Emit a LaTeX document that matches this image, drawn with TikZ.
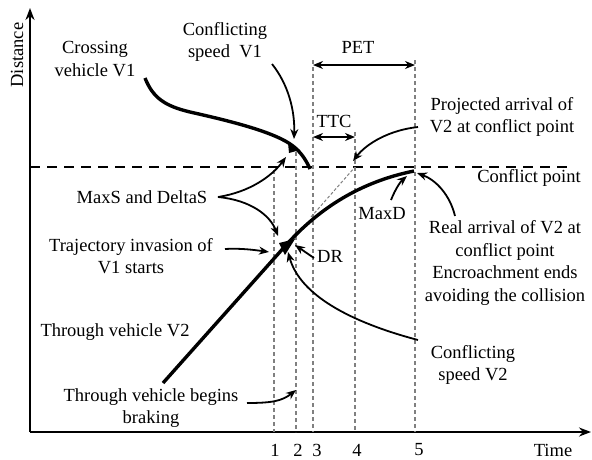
\documentclass[tikz,border=0pt]{standalone}
\usepackage{fontspec}
\setmainfont{Liberation Serif}
\usetikzlibrary{arrows.meta}
\begin{document}
\begin{tikzpicture}[x=1pt,y=-1pt,
  lbl/.style={font=\fontsize{18.5}{22.5}\selectfont, align=center, inner sep=0pt},
  ann/.style={-{Stealth[length=10pt,width=8pt]}, line width=1.8pt},
  dim/.style={{Stealth[length=10pt,width=8pt]}-{Stealth[length=10pt,width=8pt]}, line width=1.7pt},
  guide/.style={dash pattern=on 4pt off 3pt, line width=1.1pt, black!50},
  traj/.style={line width=3.4pt},
  axis/.style={-{Stealth[length=12pt,width=9pt]}, line width=2pt}
]
\useasboundingbox (0,0) rectangle (592,459);
% axes
\coordinate (O) at (30,432);
\coordinate (ytop) at (30,8);
\coordinate (xend) at (591,432);
\draw[axis] (O) -- (ytop);
\draw[axis] (O) -- (xend);
\node[lbl, rotate=90] (dist) at (17,55) {Distance};
\node[lbl] (time) at (553,450) {Time};
% conflict line
\coordinate (cl1) at (30,167);
\coordinate (cl2) at (568,167);
\draw[line width=2.2pt, dash pattern=on 10pt off 7pt] (cl1) -- (cl2);
% vertical guide lines
\coordinate (g1t) at (274,170); \coordinate (g1b) at (274,432);
\coordinate (g2t) at (296,152); \coordinate (g2b) at (296,432);
\coordinate (g3t) at (313,60);  \coordinate (g3b) at (313,432);
\coordinate (g4t) at (355,132); \coordinate (g4b) at (355,432);
\coordinate (g5t) at (415,60);  \coordinate (g5b) at (415,432);
\foreach \a in {1,...,5} {\draw[guide] (g\a t) -- (g\a b);}
\node[lbl] (n1) at (275,450) {1};
\node[lbl] (n2) at (298,450) {2};
\node[lbl] (n3) at (317,450) {3};
\node[lbl] (n4) at (357,450) {4};
\node[lbl] (n5) at (419,450) {5};
% PET and TTC
\coordinate (pa) at (313,65); \coordinate (pb) at (415,65);
\draw[dim] (pa) -- (pb);
\node[lbl] (pet) at (358,47) {PET};
\coordinate (ta) at (313,137); \coordinate (tb) at (355,137);
\draw[dim] (ta) -- (tb);
\node[lbl] (ttc) at (334,121) {TTC};
% V1 trajectory
\coordinate (v1s) at (145,78);
\coordinate (v1m) at (293,146);
\coordinate (v1e) at (310,169);
\draw[traj] (v1s) .. controls (153,98) and (165,106) .. (190,112)
  .. controls (230,121) and (275,132) .. (v1m)
  .. controls (302,153) and (307,162) .. (v1e);
\fill (288,143) -- (300,150) -- (289,153) -- cycle;
% V2 trajectory
\coordinate (v2s) at (163,383);
\coordinate (v2m) at (287,244);
\coordinate (v2e) at (414,171);
\draw[traj] (v2s) -- (v2m) .. controls (320,208) and (360,182) .. (v2e);
\fill (279,243) -- (295,239) -- (285,255) -- cycle;
% projected (extrapolated) path
\coordinate (pj1) at (311,217);
\coordinate (pj2) at (355,167);
\draw[dash pattern=on 3pt off 2pt, line width=1pt, black!50] (pj1) -- (pj2);
% labels
\node[lbl] (cross) at (95,59) {Crossing\\vehicle V1};
\node[lbl] (csv1) at (225,42) {Conflicting\\speed\ \ V1};
\node[lbl] (proj) at (502,117) {Projected arrival of\\V2 at conflict point};
\node[lbl] (cpt) at (529,178) {Conflict point};
\node[lbl] (maxs) at (142,197) {MaxS and DeltaS};
\node[lbl] (maxd) at (382,214) {MaxD};
\node[lbl] (real) at (505,263) {Real arrival of V2 at\\conflict point\\Encroachment ends\\avoiding the collision};
\node[lbl] (traj) at (131,256) {Trajectory invasion of\\V1 starts};
\node[lbl] (dr) at (330,256) {DR};
\node[lbl] (tv2) at (115,332) {Through vehicle V2};
\node[lbl] (csv2) at (473,365) {Conflicting\\speed V2};
\node[lbl] (brake) at (151,408) {Through vehicle begins\\braking};
% annotation arrows
\coordinate (a1s) at (272,64);  \coordinate (a1e) at (294,139);
\draw[ann] (a1s) .. controls (288,84) and (295,110) .. (a1e);
\coordinate (ms) at (218,197);
\coordinate (mu) at (286,157);
\coordinate (ml) at (278,236);
\draw[ann] (ms) .. controls (250,192) and (272,176) .. (mu);
\draw[ann] (ms) .. controls (250,200) and (270,215) .. (ml);
\coordinate (trs) at (225,249); \coordinate (tre) at (269,252);
\draw[ann] (trs) .. controls (240,248) and (255,250) .. (tre);
\coordinate (drs) at (314,258); \coordinate (dre) at (295,245);
\draw[ann] (drs) -- (dre);
\coordinate (c2s) at (418,340); \coordinate (c2e) at (288,252);
\draw[ann] (c2s) .. controls (350,322) and (300,295) .. (c2e);
\coordinate (brs) at (247,403); \coordinate (bre) at (296,390);
\draw[ann] (brs) .. controls (272,403) and (282,401) .. (bre);
\coordinate (mds) at (391,200); \coordinate (mde) at (407,176);
\draw[ann] (mds) .. controls (395,190) and (400,182) .. (mde);
\coordinate (ras) at (455,216); \coordinate (rae) at (417,173);
\draw[ann] (ras) .. controls (450,195) and (436,180) .. (rae);
\coordinate (pas) at (418,127); \coordinate (pae) at (353,161);
\draw[ann] (pas) .. controls (390,130) and (367,143) .. (pae);
\end{tikzpicture}
\end{document}
